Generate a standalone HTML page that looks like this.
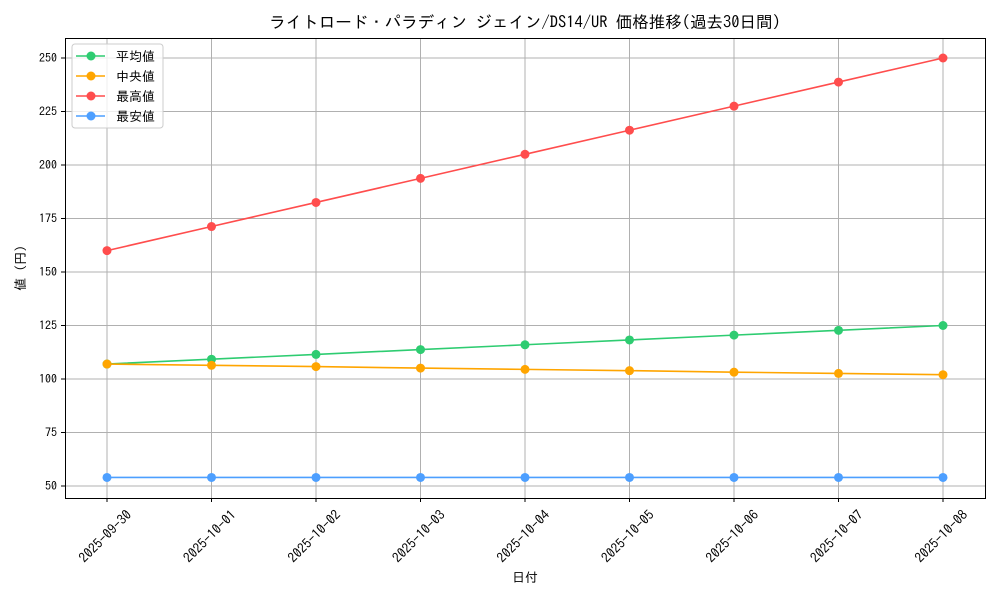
<!DOCTYPE html>
<html><head><meta charset="utf-8"><style>
body{margin:0;background:#fff}
svg text{font-family:"IPAGothic","Noto Sans CJK JP",monospace;fill:#000}
</style></head><body>
<svg id="chart" width="1000" height="600">
<text x="525" y="28" font-size="16.5" text-anchor="middle">ライトロード・パラディン ジェイン/DS14/UR 価格推移(過去30日間)</text>
<g id="grid"></g><g id="axes"></g><g id="series"></g>
<rect x="65.5" y="38.5" width="920" height="460" fill="none" stroke="#000" stroke-width="1"/>
<text x="525" y="582" font-size="13" text-anchor="middle">日付</text>
<text transform="translate(25,268) rotate(-90)" font-size="13" text-anchor="middle">値 (円)</text>
<g id="legend"></g>
</svg>
<script>
const categories=["2025-09-30","2025-10-01","2025-10-02","2025-10-03","2025-10-04","2025-10-05","2025-10-06","2025-10-07","2025-10-08"];
const avgValues=[107,109.25,111.5,113.75,116,118.25,120.5,122.75,125];
const medianValues=[107,106.4,105.8,105.1,104.5,103.9,103.2,102.6,102];
const maxValues=[160,171.25,182.5,193.75,205,216.25,227.5,238.75,250];
const minValues=[54,54,54,54,54,54,54,54,54];
const yTicks=[50,75,100,125,150,175,200,225,250];
const seriesNames=["平均値","中央値","最高値","最安値"];
const seriesColors=["#2ecc71","#ffa500","#ff4d4d","#4d9fff"];

const NS="http://www.w3.org/2000/svg";
function mk(t,a,p){const e=document.createElementNS(NS,t);for(const k in a)e.setAttribute(k,a[k]);p.appendChild(e);return e;}
const x=i=>107+i*(943-107)/(categories.length-1);
const y=v=>486-(v-50)*(486-58)/200;
const grid=document.getElementById('grid'),axes=document.getElementById('axes'),ser=document.getElementById('series'),leg=document.getElementById('legend');
categories.forEach((c,i)=>{
  const l=mk('line',{x1:x(i),x2:x(i),y1:38,y2:498,stroke:'#b0b0b0','stroke-width':1},grid);
  
  
  mk('line',{x1:x(i),x2:x(i),y1:498,y2:502,stroke:'#000'},axes);
  const t=mk('text',{transform:`translate(${x(i)-2},${536}) rotate(-45)`,'font-size':13.5,'text-anchor':'middle','dominant-baseline':'central'},axes);
  t.textContent=c;
  
  
});
yTicks.forEach(v=>{
  const l=mk('line',{x1:65,x2:985,y1:y(v),y2:y(v),stroke:'#b0b0b0','stroke-width':1},grid);
  
  
  mk('line',{x1:61,x2:65,y1:y(v),y2:y(v),stroke:'#000'},axes);
  const t=mk('text',{x:57,y:y(v)+4,'font-size':12,'text-anchor':'end'},axes);
  t.textContent=v;
  
  
});
const all=[avgValues,medianValues,maxValues,minValues];
const keys=['avg','median','max','min'];
all.forEach((vals,s)=>{
  const g=mk('g',{},ser);
  
  
  mk('polyline',{points:vals.map((v,i)=>x(i)+','+y(v)).join(' '),fill:'none',stroke:seriesColors[s],'stroke-width':1.6},g);
  vals.forEach((v,i)=>{
    const c=mk('circle',{cx:x(i),cy:y(v),r:4.5,fill:seriesColors[s]},g);
    
    
  });
});
const lb=mk('rect',{x:72,y:44,width:91,height:84,rx:3,fill:'#fff','fill-opacity':0.8,stroke:'#ccc'},leg);


seriesNames.forEach((n,s)=>{
  const g=mk('g',{},leg);
  
  
  const yy=56+s*20;
  mk('line',{x1:76,x2:105,y1:yy,y2:yy,stroke:seriesColors[s],'stroke-width':1.6},g);
  mk('circle',{cx:91,cy:yy,r:4.5,fill:seriesColors[s]},g);
  const t=mk('text',{x:116,y:yy+5,'font-size':13},g);t.textContent=n;
});
</script>
</body></html>
